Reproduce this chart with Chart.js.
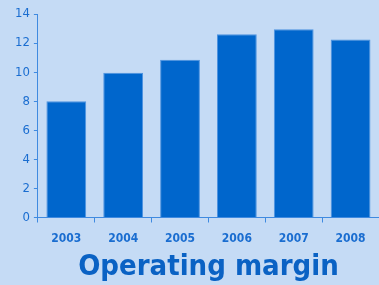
<!DOCTYPE html>
<html>
<head>
<meta charset="utf-8">
<script src="https://cdn.jsdelivr.net/npm/chart.js@4"></script>
<style>
  html, body { margin: 0; padding: 0; background: #c5dbf5; }
  #wrap { width: 379px; height: 285px; }
</style>
</head>
<body>
<div id="wrap"><canvas id="myChart" width="379" height="285"></canvas></div>
<script>
// les données du graphique
const years = ["2003", "2004", "2005", "2006", "2007", "2008"];
const margin = [8.0, 9.95, 10.85, 12.6, 12.95, 12.25];
const yTicks = [0, 2, 4, 6, 8, 10, 12, 14];

const BLUE = "#0066cc";
const TEXT = "#1a6dd0";
const AXIS = "#3f8ae0";

const ctx = document.querySelector("#myChart").getContext("2d");

new Chart(ctx, {
  type: "bar",
  data: {
    labels: years,
    datasets: [{
      label: "Operating margin",
      data: margin,
      backgroundColor: BLUE,
      borderColor: "#4d93e0",
      borderWidth: 1,
      categoryPercentage: 0.7,
      barPercentage: 1
    }]
  },
  options: {
    responsive: false,
    animation: false,
    layout: { padding: { top: 14, right: -4, left: 11, bottom: 0 } },
    plugins: {
      legend: { display: false },
      tooltip: { enabled: false },
      title: {
        display: true,
        position: "bottom",
        fullSize: false,
        text: "Operating margin",
        color: "#0a62c4",
        font: { family: "DejaVu Sans Condensed", size: 29, weight: "bold", lineHeight: 0.9 },
        padding: { top: 0, bottom: 4 }
      }
    },
    scales: {
      x: {
        grid: { drawOnChartArea: false, color: AXIS, tickLength: 5, offset: true },
        border: { color: AXIS, width: 1 },
        ticks: {
          color: TEXT,
          padding: 9,
          font: { family: "DejaVu Sans Condensed", size: 12, weight: "bold" }
        }
      },
      y: {
        min: 0,
        max: 14,
        afterBuildTicks: (axis) => { axis.ticks = yTicks.map(v => ({ value: v })); },
        grid: { drawOnChartArea: false, color: AXIS, tickLength: 4 },
        border: { color: AXIS, width: 1 },
        ticks: {
          color: TEXT,
          padding: 4,
          font: { family: "DejaVu Sans Condensed", size: 13 }
        }
      }
    }
  }
});
</script>
</body>
</html>
